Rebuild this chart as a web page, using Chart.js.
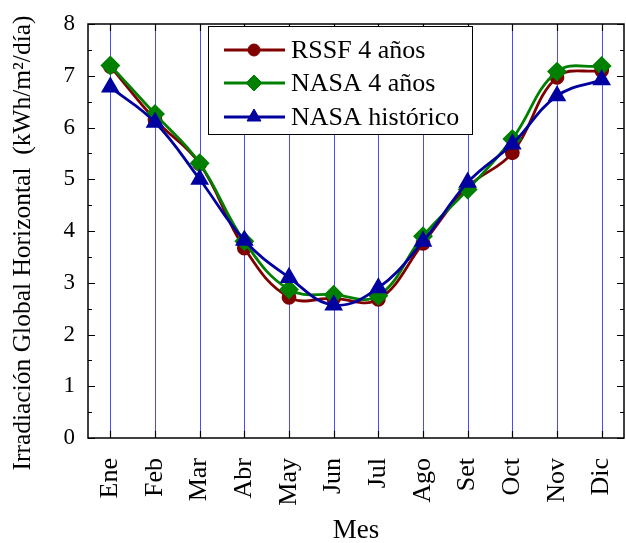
<!DOCTYPE html>
<html>
<head>
<meta charset="utf-8">
<script src="https://cdn.jsdelivr.net/npm/chart.js@4.4.0/dist/chart.umd.min.js"></script>
<style>
  html, body { margin: 0; padding: 0; background: #fff; }
  #wrap { width: 626px; height: 543px; }
</style>
</head>
<body>
<div id="wrap"><canvas id="c" width="626" height="543"></canvas></div>
<script>
// datos
const meses = ['Ene', 'Feb', 'Mar', 'Abr', 'May', 'Jun', 'Jul', 'Ago', 'Set', 'Oct', 'Nov', 'Dic'];
const rssf4 = [7.18, 6.15, 5.30, 3.67, 2.72, 2.70, 2.68, 3.76, 4.85, 5.51, 6.97, 7.10];
const nasa4 = [7.20, 6.26, 5.31, 3.80, 2.87, 2.77, 2.75, 3.90, 4.80, 5.78, 7.08, 7.19];
const nasaHist = [6.78, 6.10, 5.00, 3.82, 3.10, 2.57, 2.90, 3.80, 4.94, 5.68, 6.61, 6.92];
const yTicks = [0, 1, 2, 3, 4, 5, 6, 7, 8];
const yTitulo = 'Irradiación Global Horizontal  (kWh/m²/día)';

const FONT = '"Liberation Serif", "Times New Roman", serif';

// área de trazado fija (como en la figura original)
const AREA = { left: 88, right: 624, top: 24, bottom: 438 };

const fixArea = {
    id: 'fixArea',
    afterLayout(chart) {
        const a = chart.chartArea;
        Object.assign(a, AREA);
        a.width = AREA.right - AREA.left;
        a.height = AREA.bottom - AREA.top;
        const x = chart.scales.x, y = chart.scales.y;
        x.left = AREA.left; x.right = AREA.right; x.width = a.width;
        x.configure();
        y.top = AREA.top; y.bottom = AREA.bottom; y.height = a.height;
        y.configure();
    }
};

// líneas verticales azules detrás de las series
const gridPlugin = {
    id: 'vgrid',
    beforeDatasetsDraw(chart) {
        const ctx = chart.ctx, a = chart.chartArea, x = chart.scales.x;
        ctx.save();
        ctx.strokeStyle = '#4a4aff';
        ctx.lineWidth = 1;
        ctx.beginPath();
        meses.forEach((m, i) => {
            const px = Math.round(x.getPixelForValue(i)) + 0.5;
            ctx.moveTo(px, a.top); ctx.lineTo(px, a.bottom);
        });
        ctx.stroke();
        ctx.restore();
    }
};

// marco, marcas hacia dentro, título del eje Y y leyenda con caja
const framePlugin = {
    id: 'frame',
    afterDraw(chart) {
        const ctx = chart.ctx, a = chart.chartArea;
        const x = chart.scales.x, y = chart.scales.y;
        ctx.save();
        ctx.strokeStyle = '#000';
        ctx.lineWidth = 1.5;
        ctx.strokeRect(a.left, a.top, a.right - a.left, a.bottom - a.top);
        ctx.lineWidth = 1.2;
        ctx.beginPath();
        meses.forEach((m, i) => {
            const px = Math.round(x.getPixelForValue(i)) + 0.5;
            ctx.moveTo(px, a.bottom); ctx.lineTo(px, a.bottom - 7);
            ctx.moveTo(px, a.top); ctx.lineTo(px, a.top + 7);
        });
        for (let v = 0; v <= 8; v += 0.5) {
            const py = Math.round(y.getPixelForValue(v)) + 0.5;
            const len = Number.isInteger(v) ? 7 : 4;
            ctx.moveTo(a.left, py); ctx.lineTo(a.left + len, py);
            ctx.moveTo(a.right, py); ctx.lineTo(a.right - len, py);
        }
        ctx.stroke();

        // título vertical
        ctx.save();
        ctx.translate(23, 243);
        ctx.rotate(-Math.PI / 2);
        ctx.fillStyle = '#000';
        ctx.font = '25.5px ' + FONT;
        ctx.textAlign = 'center';
        ctx.textBaseline = 'middle';
        ctx.fillText(yTitulo, 0, 0);
        ctx.restore();

        // leyenda
        const bx = 208, by = 26, bw = 264, bh = 108;
        ctx.fillStyle = '#fff';
        ctx.fillRect(bx, by, bw, bh);
        ctx.lineWidth = 1;
        ctx.strokeRect(bx + 0.5, by + 0.5, bw, bh);
        const rows = [50, 83, 117];
        chart.data.datasets.forEach((ds, i) => {
            const ry = rows[i];
            ctx.strokeStyle = ds.borderColor;
            ctx.lineWidth = ds.borderWidth;
            ctx.beginPath(); ctx.moveTo(224, ry); ctx.lineTo(285, ry); ctx.stroke();
            ctx.fillStyle = ds.backgroundColor;
            ctx.lineWidth = 1;
            Chart.helpers.drawPoint(ctx, {
                pointStyle: ds.pointStyle, radius: ds.pointRadius, rotation: 0, borderWidth: 1
            }, 254, ry);
            ctx.fillStyle = '#000';
            ctx.font = '26px ' + FONT;
            ctx.textBaseline = 'middle';
            ctx.textAlign = 'left';
            ctx.fillText(ds.label, 291, ry + 1);
        });
        ctx.restore();
    }
};

new Chart(document.getElementById('c'), {
    type: 'line',
    data: {
        labels: meses,
        datasets: [
            { label: 'RSSF 4 años', data: rssf4, borderColor: '#800000', backgroundColor: '#800000',
              pointStyle: 'circle', pointRadius: 6, borderWidth: 2.8, tension: 0.4, order: 3 },
            { label: 'NASA 4 años', data: nasa4, borderColor: '#008000', backgroundColor: '#008000',
              pointStyle: 'rectRot', pointRadius: 8, borderWidth: 2.8, tension: 0.4, order: 2 },
            { label: 'NASA histórico', data: nasaHist, borderColor: '#0000a0', backgroundColor: '#0000a0',
              pointStyle: 'triangle', pointRadius: 8, borderWidth: 2.8, tension: 0.4, order: 1 }
        ]
    },
    options: {
        responsive: false,
        animation: false,
        layout: { padding: { top: 24, right: 2, left: 0, bottom: 0 } },
        plugins: { legend: { display: false }, tooltip: { enabled: false } },
        scales: {
            x: {
                offset: true,
                grid: { display: false },
                border: { display: false },
                ticks: { minRotation: 90, maxRotation: 90, padding: 12, color: '#000', font: { family: FONT, size: 26 } },
                title: { display: true, text: 'Mes', color: '#000', font: { family: FONT, size: 27 }, padding: { top: 8, bottom: -4 } },
                afterFit(s) { s.height = 105; s.paddingLeft = 0; s.paddingRight = 0; }
            },
            y: {
                min: 0, max: 8,
                afterBuildTicks(s) { s.ticks = yTicks.map(v => ({ value: v })); },
                grid: { display: false },
                border: { display: false },
                ticks: { padding: 5, color: '#000', font: { family: FONT, size: 23 } },
                afterFit(s) { s.width = 88; s.paddingTop = 0; s.paddingBottom = 0; }
            }
        }
    },
    plugins: [fixArea, gridPlugin, framePlugin]
});
</script>
</body>
</html>
